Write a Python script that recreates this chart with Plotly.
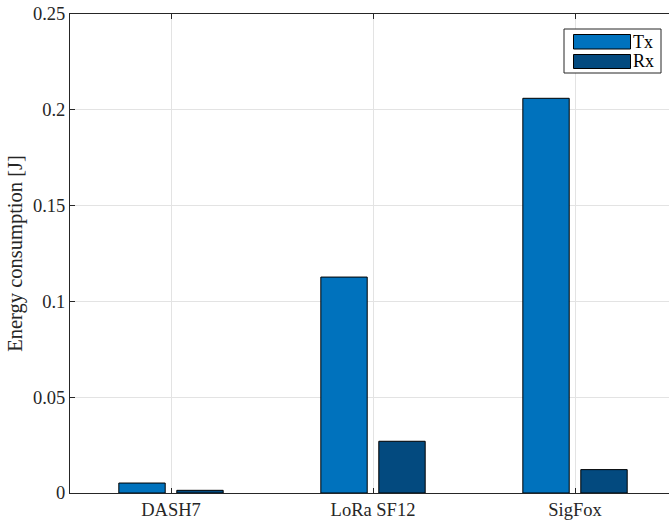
import plotly.graph_objects as go

categories = ["DASH7", "LoRa SF12", "SigFox"]
tx_values = [0.0052, 0.1127, 0.2060]
rx_values = [0.0014, 0.0270, 0.0122]
series_names = ["Tx", "Rx"]
y_ticks = [0, 0.05, 0.1, 0.15, 0.2, 0.25]
y_tick_labels = ["0", "0.05", "0.1", "0.15", "0.2", "0.25"]

TX_COLOR = "#0072BD"
RX_COLOR = "#034A7F"
AXIS_COLOR = "#262626"
FONT = "Liberation Serif"

W, H = 669, 524
ML, MR, MT, MB = 70, 0, 14, 31

fig = go.Figure()
fig.add_trace(go.Bar(x=categories, y=tx_values, name=series_names[0],
                     marker=dict(color=TX_COLOR, line=dict(color="black", width=1)),
                     showlegend=False))
fig.add_trace(go.Bar(x=categories, y=rx_values, name=series_names[1],
                     marker=dict(color=RX_COLOR, line=dict(color="black", width=1)),
                     showlegend=False))

pw = W - ML - MR
ph = H - MT - MB

def px2paper(px, py):
    return (px - ML) / pw, (H - MB - py) / ph

# custom MATLAB-like legend
x0, y0 = px2paper(564, 29)
x1, y1 = px2paper(661, 73)
fig.add_shape(type="rect", xref="paper", yref="paper", x0=x0, y0=y0, x1=x1, y1=y1,
              line=dict(color=AXIS_COLOR, width=1), fillcolor="white", layer="above")
for (top, bot), name, col in zip([(34.5, 49), (54.5, 68.5)], series_names, [TX_COLOR, RX_COLOR]):
    sx0, sy0 = px2paper(573.5, top)
    sx1, sy1 = px2paper(630.5, bot)
    fig.add_shape(type="rect", xref="paper", yref="paper", x0=sx0, y0=sy0, x1=sx1, y1=sy1,
                  line=dict(color="black", width=1), fillcolor=col, layer="above")
    tx, ty = px2paper(631, (top + bot) / 2)
    fig.add_annotation(x=tx, y=ty, xref="paper", yref="paper", text=name, showarrow=False,
                       xanchor="left", yanchor="middle",
                       font=dict(family=FONT, size=18, color="#000000"))

fig.update_layout(
    width=W, height=H,
    margin=dict(l=ML, r=MR, t=MT, b=MB, pad=0),
    plot_bgcolor="white", paper_bgcolor="white",
    barmode="group", bargap=0.426, bargroupgap=0.2,
    font=dict(family=FONT, size=18.5, color=AXIS_COLOR),
    xaxis=dict(range=[-0.5, 2.4653], showgrid=True, gridcolor="#E3E3E3", gridwidth=1,
               showline=True, linecolor=AXIS_COLOR, linewidth=1, mirror="ticks",
               ticks="inside", ticklen=5, tickcolor=AXIS_COLOR,
               tickfont=dict(family=FONT, size=18.5, color=AXIS_COLOR)),
    yaxis=dict(range=[0, 0.25], tickvals=y_ticks, ticktext=y_tick_labels,
               showgrid=True, gridcolor="#E3E3E3", gridwidth=1, zeroline=False,
               showline=True, linecolor=AXIS_COLOR, linewidth=1, mirror=False,
               ticks="inside", ticklen=5, tickcolor=AXIS_COLOR,
               tickfont=dict(family=FONT, size=18.5, color=AXIS_COLOR),
               title=dict(text="Energy consumption [J]", standoff=4,
                          font=dict(family=FONT, size=20.5, color=AXIS_COLOR))),
)

fig.write_html("out.html", config={"displayModeBar": False},
               post_script="document.body.style.margin='0';document.body.style.overflow='hidden';")
